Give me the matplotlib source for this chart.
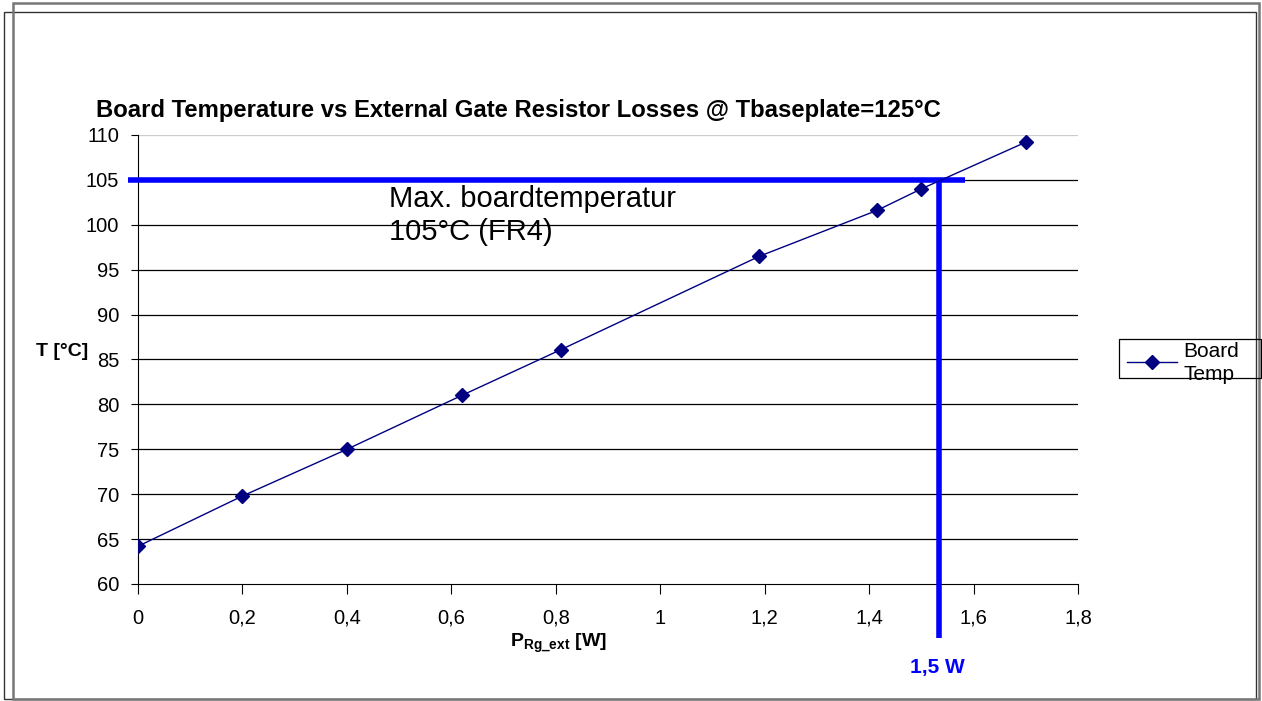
import matplotlib.pyplot as plt
from matplotlib.patches import Rectangle
from matplotlib.lines import Line2D

plt.rcParams['font.family'] = ['Liberation Sans', 'DejaVu Sans']
plt.rcParams['mathtext.fontset'] = 'custom'
plt.rcParams['mathtext.rm'] = 'Liberation Sans'
plt.rcParams['mathtext.bf'] = 'Liberation Sans:bold'

# data
power_w = [0.0, 0.2, 0.4, 0.62, 0.81, 1.19, 1.415, 1.50, 1.70]
board_temp = [64.2, 69.8, 75.0, 81.0, 86.1, 96.5, 101.6, 104.0, 109.2]
x_ticks = [0, 0.2, 0.4, 0.6, 0.8, 1, 1.2, 1.4, 1.6, 1.8]
x_tick_labels = ['0', '0,2', '0,4', '0,6', '0,8', '1', '1,2', '1,4', '1,6', '1,8']
y_ticks = list(range(60, 111, 5))

max_temp = 105
max_power = 1.534

W, H = 1262, 701
fig = plt.figure(figsize=(W / 100, H / 100), dpi=100)


def px(x, y):
    return x / W, 1 - y / H


# outer frames
fig.add_artist(Rectangle(px(4, 699), (1256 - 4) / W, (699 - 12) / H, transform=fig.transFigure,
                         fill=False, edgecolor='#333333', linewidth=1.0))
fig.add_artist(Rectangle(px(13, 699), (1259 - 13) / W, (699 - 3) / H, transform=fig.transFigure,
                         fill=False, edgecolor='#777777', linewidth=1.8))

ax = fig.add_axes([138 / W, (H - 584) / H, 940 / W, (584 - 135) / H])
ax.plot(power_w, board_temp, color='#000080', linewidth=1.0, marker='D', markersize=7,
        zorder=4)

ax.set_xlim(0, 1.8)
ax.set_ylim(60, 110)
ax.set_xticks(x_ticks)
ax.set_xticklabels(x_tick_labels)
ax.set_yticks(y_ticks)
ax.tick_params(axis='both', labelsize=14.5, direction='out', color='black')
ax.tick_params(axis='x', length=7, pad=11)
ax.tick_params(axis='y', length=5, pad=8.5)
for v in y_ticks[1:-1]:
    ax.axhline(v, color='black', linewidth=0.9, zorder=1)
ax.axhline(y_ticks[-1], color='#cccccc', linewidth=0.9, zorder=1)
for s in ['top', 'right']:
    ax.spines[s].set_visible(False)

# limit lines
ax.plot([-0.02, 1.584], [max_temp, max_temp], color='#0000ff', linewidth=4, clip_on=False, zorder=3,
        solid_capstyle='butt')
ax.plot([max_power, max_power], [max_temp, 54.0], color='#0000ff', linewidth=4, clip_on=False,
        zorder=3, solid_capstyle='butt')

ax.text(0.48, 104.4, 'Max. boardtemperatur\n105°C (FR4)', fontsize=21, va='top', ha='left',
        linespacing=1.2)

fig.text(*px(518, 117), 'Board Temperature vs External Gate Resistor Losses @ Tbaseplate=125°C',
         fontsize=17.2, fontweight='bold', ha='center', va='baseline')
fig.text(*px(62, 352), 'T [°C]', fontsize=14, fontweight='bold', ha='center', va='center')
fig.text(*px(558, 643), r'$\mathbf{P_{Rg\_ext}}$ [W]', fontsize=14, fontweight='bold',
         ha='center', va='center')
fig.text(*px(937, 667), '1,5 W', fontsize=15, fontweight='bold', color='#0000ff',
         ha='center', va='center')

# legend drawn like the original (text spills below the box)
fig.add_artist(Rectangle(px(1119, 378), (1261 - 1119) / W, (378 - 339) / H, transform=fig.transFigure,
                         fill=False, edgecolor='black', linewidth=0.9))
fig.add_artist(Line2D([1127 / W, 1177 / W], [1 - 362 / H, 1 - 362 / H], transform=fig.transFigure,
                      color='#000080', linewidth=1.0))
fig.add_artist(Line2D([1152 / W], [1 - 362 / H], transform=fig.transFigure,
                      color='#000080', marker='D', markersize=7))
fig.text(*px(1183, 363), 'Board\nTemp', fontsize=15, ha='left', va='center', linespacing=1.25)

fig.savefig('out.png', dpi=100)
